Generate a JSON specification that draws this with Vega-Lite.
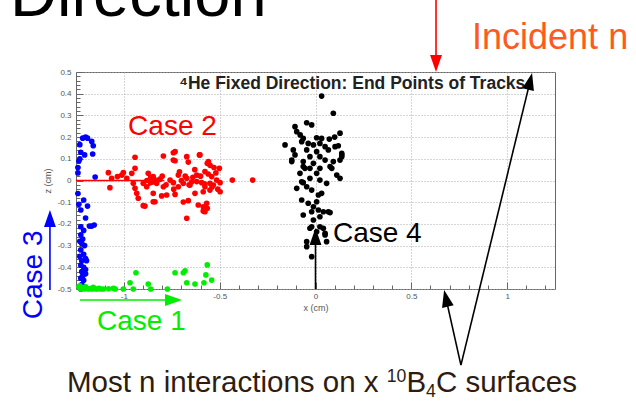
{
  "$schema": "https://vega.github.io/schema/vega-lite/v6.json",
  "width": 479,
  "height": 217,
  "autosize": {"type": "none"},
  "padding": {"left": 76, "top": 72, "right": 81, "bottom": 113},
  "background": "white",
  "config": {
    "view": {"stroke": "#666666", "strokeWidth": 1},
    "font": "Liberation Sans",
    "axis": {
      "domain": false,
      "labelFont": "Liberation Sans",
      "labelFontSize": 8,
      "labelColor": "#555555",
      "labelOverlap": false,
      "titleFont": "Liberation Sans",
      "titleFontSize": 9,
      "titleFontWeight": "normal",
      "titleColor": "#555555",
      "tickColor": "#666666",
      "gridColor": "#aaaaaa",
      "gridDash": [1, 2],
      "gridWidth": 1
    }
  },
  "resolve": {"axis": {"x": "independent", "y": "independent"}},
  "datasets": {
    "tracks": [
      {"x": -1.215, "z": 0.195, "case": "Case 3"}, {"x": -1.2, "z": 0.2, "case": "Case 3"}, {"x": -1.19, "z": 0.195, "case": "Case 3"},
      {"x": -1.168, "z": 0.18, "case": "Case 3"}, {"x": -1.16, "z": 0.16, "case": "Case 3"}, {"x": -1.23, "z": 0.165, "case": "Case 3"},
      {"x": -1.225, "z": 0.13, "case": "Case 3"}, {"x": -1.205, "z": 0.118, "case": "Case 3"}, {"x": -1.163, "z": 0.122, "case": "Case 3"},
      {"x": -1.235, "z": 0.09, "case": "Case 3"}, {"x": -1.23, "z": 0.1, "case": "Case 3"}, {"x": -1.24, "z": 0.035, "case": "Case 3"},
      {"x": -1.15, "z": 0.016, "case": "Case 3"}, {"x": -1.24, "z": 0.06, "case": "Case 3"}, {"x": -1.21, "z": -0.09, "case": "Case 3"},
      {"x": -1.19, "z": -0.118, "case": "Case 3"}, {"x": -1.225, "z": -0.136, "case": "Case 3"}, {"x": -1.2, "z": -0.173, "case": "Case 3"},
      {"x": -1.168, "z": -0.21, "case": "Case 3"}, {"x": -1.225, "z": -0.213, "case": "Case 3"}, {"x": -1.235, "z": -0.11, "case": "Case 3"},
      {"x": -1.24, "z": -0.06, "case": "Case 3"}, {"x": -1.155, "z": -0.205, "case": "Case 3"}, {"x": -1.18, "z": -0.21, "case": "Case 3"},
      {"x": -1.225, "z": -0.25, "case": "Case 3"}, {"x": -1.215, "z": -0.27, "case": "Case 3"}, {"x": -1.22, "z": -0.29, "case": "Case 3"},
      {"x": -1.205, "z": -0.3, "case": "Case 3"}, {"x": -1.225, "z": -0.32, "case": "Case 3"}, {"x": -1.21, "z": -0.34, "case": "Case 3"},
      {"x": -1.2, "z": -0.36, "case": "Case 3"}, {"x": -1.22, "z": -0.37, "case": "Case 3"}, {"x": -1.195, "z": -0.37, "case": "Case 3"},
      {"x": -1.225, "z": -0.39, "case": "Case 3"}, {"x": -1.21, "z": -0.4, "case": "Case 3"}, {"x": -1.22, "z": -0.42, "case": "Case 3"},
      {"x": -1.2, "z": -0.43, "case": "Case 3"}, {"x": -1.225, "z": -0.45, "case": "Case 3"}, {"x": -1.21, "z": -0.46, "case": "Case 3"},
      {"x": -1.22, "z": -0.48, "case": "Case 3"}, {"x": -1.205, "z": -0.49, "case": "Case 3"}, {"x": -1.225, "z": -0.5, "case": "Case 3"},
      {"x": -1.215, "z": -0.44, "case": "Case 3"}, {"x": -1.23, "z": -0.28, "case": "Case 3"}, {"x": -1.23, "z": -0.35, "case": "Case 3"},
      {"x": -1.2, "z": -0.41, "case": "Case 3"}, {"x": -1.21, "z": -0.23, "case": "Case 3"},

      {"x": -1.235, "z": -0.49, "case": "Case 1"}, {"x": -1.225, "z": -0.5, "case": "Case 1"}, {"x": -1.215, "z": -0.495, "case": "Case 1"},
      {"x": -1.205, "z": -0.5, "case": "Case 1"}, {"x": -1.195, "z": -0.497, "case": "Case 1"}, {"x": -1.185, "z": -0.5, "case": "Case 1"},
      {"x": -1.175, "z": -0.498, "case": "Case 1"}, {"x": -1.165, "z": -0.5, "case": "Case 1"}, {"x": -1.15, "z": -0.499, "case": "Case 1"},
      {"x": -1.14, "z": -0.5, "case": "Case 1"}, {"x": -1.13, "z": -0.497, "case": "Case 1"}, {"x": -1.12, "z": -0.5, "case": "Case 1"},
      {"x": -1.107, "z": -0.5, "case": "Case 1"}, {"x": -1.08, "z": -0.499, "case": "Case 1"}, {"x": -1.055, "z": -0.497, "case": "Case 1"},
      {"x": -1.045, "z": -0.5, "case": "Case 1"}, {"x": -1.003, "z": -0.5, "case": "Case 1"}, {"x": -0.968, "z": -0.471, "case": "Case 1"},
      {"x": -0.951, "z": -0.5, "case": "Case 1"}, {"x": -0.937, "z": -0.425, "case": "Case 1"}, {"x": -0.873, "z": -0.477, "case": "Case 1"},
      {"x": -0.86, "z": -0.5, "case": "Case 1"}, {"x": -0.773, "z": -0.5, "case": "Case 1"}, {"x": -0.733, "z": -0.425, "case": "Case 1"},
      {"x": -0.69, "z": -0.425, "case": "Case 1"}, {"x": -0.681, "z": -0.416, "case": "Case 1"}, {"x": -0.672, "z": -0.471, "case": "Case 1"},
      {"x": -0.629, "z": -0.477, "case": "Case 1"}, {"x": -0.582, "z": -0.471, "case": "Case 1"}, {"x": -0.572, "z": -0.435, "case": "Case 1"},
      {"x": -0.542, "z": -0.459, "case": "Case 1"}, {"x": -0.565, "z": -0.389, "case": "Case 1"}, {"x": -1.23, "z": -0.485, "case": "Case 1"},
      {"x": -1.2, "z": -0.49, "case": "Case 1"}, {"x": -1.16, "z": -0.492, "case": "Case 1"},

      {"x": -0.942, "z": 0.107, "case": "Case 2"}, {"x": -0.794, "z": 0.113, "case": "Case 2"}, {"x": -0.742, "z": 0.128, "case": "Case 2"},
      {"x": -0.606, "z": 0.118, "case": "Case 2"}, {"x": -0.733, "z": 0.091, "case": "Case 2"}, {"x": -0.664, "z": 0.085, "case": "Case 2"},
      {"x": -0.565, "z": 0.079, "case": "Case 2"}, {"x": -0.502, "z": 0.056, "case": "Case 2"}, {"x": -0.942, "z": 0.056, "case": "Case 2"},
      {"x": -1.003, "z": 0.036, "case": "Case 2"}, {"x": -0.959, "z": 0.033, "case": "Case 2"}, {"x": -0.873, "z": 0.033, "case": "Case 2"},
      {"x": -0.985, "z": 0.01, "case": "Case 2"}, {"x": -0.847, "z": 0.018, "case": "Case 2"}, {"x": -0.812, "z": 0.006, "case": "Case 2"},
      {"x": -0.759, "z": 0.002, "case": "Case 2"}, {"x": -0.716, "z": 0.025, "case": "Case 2"}, {"x": -0.672, "z": 0.01, "case": "Case 2"},
      {"x": -0.62, "z": 0.025, "case": "Case 2"}, {"x": -0.577, "z": 0.041, "case": "Case 2"}, {"x": -0.542, "z": 0.018, "case": "Case 2"},
      {"x": -0.516, "z": 0.002, "case": "Case 2"}, {"x": -0.434, "z": 0.002, "case": "Case 2"}, {"x": -0.328, "z": 0.002, "case": "Case 2"},
      {"x": -0.951, "z": -0.013, "case": "Case 2"}, {"x": -0.899, "z": -0.013, "case": "Case 2"}, {"x": -0.829, "z": -0.013, "case": "Case 2"},
      {"x": -0.742, "z": -0.01, "case": "Case 2"}, {"x": -0.69, "z": -0.013, "case": "Case 2"}, {"x": -0.646, "z": -0.006, "case": "Case 2"},
      {"x": -0.594, "z": -0.01, "case": "Case 2"}, {"x": -0.551, "z": -0.013, "case": "Case 2"}, {"x": -0.498, "z": -0.01, "case": "Case 2"},
      {"x": -0.942, "z": -0.036, "case": "Case 2"}, {"x": -0.881, "z": -0.029, "case": "Case 2"}, {"x": -0.794, "z": -0.029, "case": "Case 2"},
      {"x": -0.716, "z": -0.029, "case": "Case 2"}, {"x": -0.655, "z": -0.021, "case": "Case 2"}, {"x": -0.577, "z": -0.029, "case": "Case 2"},
      {"x": -0.533, "z": -0.021, "case": "Case 2"}, {"x": -0.933, "z": -0.059, "case": "Case 2"}, {"x": -0.847, "z": -0.059, "case": "Case 2"},
      {"x": -0.803, "z": -0.071, "case": "Case 2"}, {"x": -0.777, "z": -0.067, "case": "Case 2"}, {"x": -0.733, "z": -0.064, "case": "Case 2"},
      {"x": -0.629, "z": -0.059, "case": "Case 2"}, {"x": -0.586, "z": -0.052, "case": "Case 2"}, {"x": -0.551, "z": -0.044, "case": "Case 2"},
      {"x": -0.498, "z": -0.052, "case": "Case 2"}, {"x": -0.925, "z": -0.082, "case": "Case 2"}, {"x": -0.847, "z": -0.098, "case": "Case 2"},
      {"x": -0.69, "z": -0.099, "case": "Case 2"}, {"x": -0.664, "z": -0.093, "case": "Case 2"}, {"x": -0.612, "z": -0.113, "case": "Case 2"},
      {"x": -0.568, "z": -0.105, "case": "Case 2"}, {"x": -0.89, "z": -0.118, "case": "Case 2"}, {"x": -0.586, "z": -0.141, "case": "Case 2"},
      {"x": -0.565, "z": -0.128, "case": "Case 2"}, {"x": -0.672, "z": -0.174, "case": "Case 2"}, {"x": -1.081, "z": 0.036, "case": "Case 2"},
      {"x": -1.064, "z": 0.01, "case": "Case 2"}, {"x": -1.073, "z": -0.033, "case": "Case 2"}, {"x": -1.034, "z": 0.018, "case": "Case 2"},
      {"x": -1.011, "z": 0.025, "case": "Case 2"}, {"x": -0.899, "z": -0.116, "case": "Case 2"}, {"x": -0.838, "z": -0.098, "case": "Case 2"},
      {"x": -0.742, "z": 0.094, "case": "Case 2"}, {"x": -0.733, "z": 0.133, "case": "Case 2"}, {"x": -0.672, "z": 0.11, "case": "Case 2"},
      {"x": -0.603, "z": 0.118, "case": "Case 2"}, {"x": -0.559, "z": 0.087, "case": "Case 2"}, {"x": -0.586, "z": -0.121, "case": "Case 2"},
      {"x": -0.577, "z": -0.144, "case": "Case 2"}, {"x": -0.7, "z": 0.0, "case": "Case 2"}, {"x": -0.68, "z": 0.02, "case": "Case 2"},
      {"x": -0.66, "z": -0.02, "case": "Case 2"}, {"x": -0.64, "z": 0.015, "case": "Case 2"}, {"x": -0.62, "z": -0.005, "case": "Case 2"},
      {"x": -0.6, "z": 0.02, "case": "Case 2"}, {"x": -0.58, "z": -0.015, "case": "Case 2"}, {"x": -0.56, "z": 0.03, "case": "Case 2"},
      {"x": -0.54, "z": -0.03, "case": "Case 2"}, {"x": -0.52, "z": 0.035, "case": "Case 2"}, {"x": -0.51, "z": -0.04, "case": "Case 2"},
      {"x": -0.53, "z": 0.06, "case": "Case 2"}, {"x": -0.55, "z": 0.07, "case": "Case 2"}, {"x": -0.63, "z": 0.05, "case": "Case 2"},
      {"x": -0.71, "z": 0.04, "case": "Case 2"}, {"x": -0.74, "z": -0.04, "case": "Case 2"}, {"x": -0.88, "z": 0.0, "case": "Case 2"},
      {"x": -0.86, "z": 0.015, "case": "Case 2"}, {"x": -0.84, "z": -0.005, "case": "Case 2"}, {"x": -0.8, "z": 0.02, "case": "Case 2"},
      {"x": -0.78, "z": -0.02, "case": "Case 2"},

      {"x": 0.032, "z": 0.389, "case": "Case 4"}, {"x": 0.093, "z": 0.31, "case": "Case 4"}, {"x": -0.046, "z": 0.266, "case": "Case 4"},
      {"x": -0.02, "z": 0.256, "case": "Case 4"}, {"x": -0.107, "z": 0.248, "case": "Case 4"}, {"x": -0.098, "z": 0.225, "case": "Case 4"},
      {"x": 0.128, "z": 0.218, "case": "Case 4"}, {"x": -0.064, "z": 0.194, "case": "Case 4"}, {"x": 0.006, "z": 0.197, "case": "Case 4"},
      {"x": 0.032, "z": 0.194, "case": "Case 4"}, {"x": 0.072, "z": 0.191, "case": "Case 4"}, {"x": -0.159, "z": 0.164, "case": "Case 4"},
      {"x": -0.072, "z": 0.179, "case": "Case 4"}, {"x": -0.038, "z": 0.171, "case": "Case 4"}, {"x": -0.011, "z": 0.164, "case": "Case 4"},
      {"x": 0.023, "z": 0.171, "case": "Case 4"}, {"x": 0.05, "z": 0.156, "case": "Case 4"}, {"x": 0.102, "z": 0.156, "case": "Case 4"},
      {"x": 0.119, "z": 0.16, "case": "Case 4"}, {"x": -0.116, "z": 0.141, "case": "Case 4"}, {"x": -0.046, "z": 0.141, "case": "Case 4"},
      {"x": 0.006, "z": 0.133, "case": "Case 4"}, {"x": 0.067, "z": 0.141, "case": "Case 4"}, {"x": 0.137, "z": 0.125, "case": "Case 4"},
      {"x": -0.107, "z": 0.118, "case": "Case 4"}, {"x": -0.029, "z": 0.11, "case": "Case 4"}, {"x": 0.023, "z": 0.11, "case": "Case 4"},
      {"x": -0.064, "z": 0.087, "case": "Case 4"}, {"x": -0.124, "z": 0.087, "case": "Case 4"}, {"x": -0.011, "z": 0.079, "case": "Case 4"},
      {"x": 0.05, "z": 0.094, "case": "Case 4"}, {"x": 0.093, "z": 0.087, "case": "Case 4"}, {"x": 0.137, "z": 0.11, "case": "Case 4"},
      {"x": -0.064, "z": 0.064, "case": "Case 4"}, {"x": -0.029, "z": 0.056, "case": "Case 4"}, {"x": 0.023, "z": 0.056, "case": "Case 4"},
      {"x": 0.076, "z": 0.064, "case": "Case 4"}, {"x": -0.081, "z": 0.033, "case": "Case 4"}, {"x": 0.006, "z": 0.033, "case": "Case 4"},
      {"x": 0.111, "z": 0.025, "case": "Case 4"}, {"x": 0.128, "z": 0.01, "case": "Case 4"}, {"x": -0.029, "z": 0.01, "case": "Case 4"},
      {"x": -0.072, "z": -0.006, "case": "Case 4"}, {"x": 0.023, "z": 0.002, "case": "Case 4"}, {"x": -0.064, "z": -0.01, "case": "Case 4"},
      {"x": -0.046, "z": -0.029, "case": "Case 4"}, {"x": -0.02, "z": -0.044, "case": "Case 4"}, {"x": 0.032, "z": -0.059, "case": "Case 4"},
      {"x": -0.072, "z": -0.09, "case": "Case 4"}, {"x": -0.038, "z": -0.105, "case": "Case 4"}, {"x": 0.006, "z": -0.098, "case": "Case 4"},
      {"x": -0.011, "z": -0.121, "case": "Case 4"}, {"x": 0.015, "z": -0.136, "case": "Case 4"}, {"x": -0.02, "z": -0.144, "case": "Case 4"},
      {"x": 0.076, "z": -0.148, "case": "Case 4"}, {"x": 0.041, "z": -0.144, "case": "Case 4"}, {"x": -0.064, "z": -0.159, "case": "Case 4"},
      {"x": 0.023, "z": -0.167, "case": "Case 4"}, {"x": -0.029, "z": -0.22, "case": "Case 4"}, {"x": 0.041, "z": -0.22, "case": "Case 4"},
      {"x": 0.05, "z": -0.251, "case": "Case 4"}, {"x": 0.006, "z": -0.236, "case": "Case 4"}, {"x": 0.058, "z": -0.282, "case": "Case 4"},
      {"x": -0.046, "z": -0.305, "case": "Case 4"}, {"x": -0.02, "z": -0.351, "case": "Case 4"}, {"x": -0.046, "z": -0.282, "case": "Case 4"},
      {"x": 0.067, "z": -0.144, "case": "Case 4"}, {"x": 0.015, "z": -0.067, "case": "Case 4"}, {"x": -0.098, "z": -0.036, "case": "Case 4"},
      {"x": 0.058, "z": -0.013, "case": "Case 4"}, {"x": -0.055, "z": 0.056, "case": "Case 4"}, {"x": 0.085, "z": 0.056, "case": "Case 4"},
      {"x": 0.128, "z": 0.094, "case": "Case 4"}, {"x": 0.137, "z": 0.118, "case": "Case 4"}, {"x": -0.124, "z": 0.094, "case": "Case 4"},
      {"x": -0.011, "z": -0.182, "case": "Case 4"}, {"x": 0.023, "z": -0.213, "case": "Case 4"}, {"x": 0.05, "z": -0.243, "case": "Case 4"},
      {"x": -0.02, "z": -0.213, "case": "Case 4"}, {"x": 0.1, "z": 0.2, "case": "Case 4"}, {"x": -0.08, "z": 0.21, "case": "Case 4"}
    ],
    "arrows": [
      {"x": 0.629, "z": 0.832, "x2": 0.629, "z2": 0.55, "group": "Incident n"},
      {"x": -1.25, "z": 0.0, "x2": -0.84, "z2": 0.0, "group": "Case 2"},
      {"x": -1.386, "z": -0.505, "x2": -1.386, "z2": -0.19, "group": "Case 3"},
      {"x": -1.229, "z": -0.551, "x2": -0.76, "z2": -0.551, "group": "Case 1"},
      {"x": 0.0, "z": -0.5, "x2": 0.0, "z2": -0.27, "group": "Case 4"},
      {"x": 0.759, "z": -0.851, "x2": 1.12, "z2": 0.457, "group": "surface"},
      {"x": 0.759, "z": -0.851, "x2": 0.681, "z2": -0.543, "group": "surface"}
    ],
    "heads": [
      {"x": 0.629, "z": 0.539, "direction": 180, "group": "Incident n"},
      {"x": -0.83, "z": 0.0, "direction": 90, "group": "Case 2"},
      {"x": -1.386, "z": -0.175, "direction": 0, "group": "Case 3"},
      {"x": -0.741, "z": -0.551, "direction": 90, "group": "Case 1"},
      {"x": 0.0, "z": -0.258, "direction": 0, "group": "Case 4"},
      {"x": 1.12, "z": 0.457, "direction": 13.5, "group": "surface"},
      {"x": 0.681, "z": -0.543, "direction": -12.8, "group": "surface"}
    ]
  },
  "layer": [
    {
      "data": {"name": "tracks"},
      "mark": {"type": "circle", "size": 32, "opacity": 1},
      "encoding": {
        "x": {
          "field": "x", "type": "quantitative",
          "scale": {"domain": [-1.25, 1.25], "nice": false, "zero": false},
          "axis": {
            "orient": "bottom",
            "title": "x (cm)",
            "titlePadding": 3,
            "values": [-1, -0.5, 0, 0.5, 1],
            "labelExpr": "toString(datum.value)",
            "tickSize": -7,
            "labelPadding": 10,
            "grid": true
          }
        },
        "y": {
          "field": "z", "type": "quantitative",
          "scale": {"domain": [-0.5, 0.5], "nice": false, "zero": false},
          "axis": {
            "orient": "left",
            "title": "z (cm)",
            "titlePadding": 5,
            "values": [-0.5, -0.4, -0.3, -0.2, -0.1, 0, 0.1, 0.2, 0.3, 0.4, 0.5],
            "labelExpr": "toString(datum.value)",
            "tickSize": -7,
            "labelPadding": 12,
            "grid": true
          }
        },
        "color": {
          "field": "case", "type": "nominal",
          "scale": {
            "domain": ["Case 1", "Case 2", "Case 3", "Case 4", "Incident n", "surface"],
            "range": ["#00ee00", "#ff0000", "#0000ff", "#000000", "#ff0000", "#000000"]
          },
          "legend": null
        }
      }
    },
    {
      "data": {"values": [{"x": 0.192, "z": 0.422, "label": "⁴He Fixed Direction: End Points of Tracks"}]},
      "mark": {"type": "text", "font": "Liberation Sans", "fontSize": 17.5, "fontWeight": "bold", "align": "center", "baseline": "alphabetic", "color": "#222222"},
      "encoding": {"x": {"field": "x", "type": "quantitative", "axis": null}, "y": {"field": "z", "type": "quantitative", "axis": null}, "text": {"field": "label"}}
    },
    {
      "data": {"name": "arrows"},
      "mark": {"type": "rule", "strokeWidth": 1.6},
      "encoding": {
        "x": {
          "field": "x", "type": "quantitative",
          "axis": {
            "orient": "bottom", "title": null, "labels": false, "grid": false, "tickSize": -4,
            "values": [-1.2, -1.1, -0.9, -0.8, -0.7, -0.6, -0.4, -0.3, -0.2, -0.1, 0.1, 0.2, 0.3, 0.4, 0.6, 0.7, 0.8, 0.9, 1.1, 1.2]
          }
        },
        "y": {
          "field": "z", "type": "quantitative",
          "axis": {
            "orient": "left", "title": null, "labels": false, "grid": false, "tickSize": -4,
            "values": [-0.48, -0.46, -0.44, -0.42, -0.38, -0.36, -0.34, -0.32, -0.28, -0.26, -0.24, -0.22, -0.18, -0.16, -0.14, -0.12, -0.08, -0.06, -0.04, -0.02, 0.02, 0.04, 0.06, 0.08, 0.12, 0.14, 0.16, 0.18, 0.22, 0.24, 0.26, 0.28, 0.32, 0.34, 0.36, 0.38, 0.42, 0.44, 0.46, 0.48]
          }
        },
        "x2": {"field": "x2"},
        "y2": {"field": "z2"},
        "color": {"field": "group", "type": "nominal", "legend": null}
      }
    },
    {
      "data": {"name": "heads"},
      "mark": {"type": "point", "shape": "M0,-1L0.7,1L-0.7,1Z", "size": 289, "filled": true, "opacity": 1},
      "encoding": {
        "x": {"field": "x", "type": "quantitative", "axis": null},
        "y": {"field": "z", "type": "quantitative", "axis": null},
        "angle": {"field": "direction", "type": "quantitative", "scale": null},
        "color": {"field": "group", "type": "nominal", "legend": null}
      }
    },
    {
      "data": {"values": [{"x": -1.594, "z": 0.758, "label": "Direction"}]},
      "mark": {"type": "text", "font": "Liberation Sans", "fontSize": 65, "align": "left", "baseline": "alphabetic", "color": "#000000"},
      "encoding": {"x": {"field": "x", "type": "quantitative", "axis": null}, "y": {"field": "z", "type": "quantitative", "axis": null}, "text": {"field": "label"}}
    },
    {
      "data": {"values": [{"x": 0.817, "z": 0.606, "label": "Incident n"}]},
      "mark": {"type": "text", "font": "Liberation Sans", "fontSize": 36, "align": "left", "baseline": "alphabetic", "color": "#ff5a1e"},
      "encoding": {"x": {"field": "x", "type": "quantitative", "axis": null}, "y": {"field": "z", "type": "quantitative", "axis": null}, "text": {"field": "label"}}
    },
    {
      "data": {"values": [
        {"x": -0.978, "z": 0.21, "label": "Case 2"},
        {"x": -1.14, "z": -0.689, "label": "Case 1"},
        {"x": 0.091, "z": -0.283, "label": "Case 4"}
      ]},
      "mark": {"type": "text", "font": "Liberation Sans", "fontSize": 28, "align": "left", "baseline": "alphabetic"},
      "encoding": {
        "x": {"field": "x", "type": "quantitative", "axis": null},
        "y": {"field": "z", "type": "quantitative", "axis": null},
        "text": {"field": "label"},
        "color": {"field": "label", "type": "nominal", "legend": null}
      }
    },
    {
      "data": {"values": [{"x": -1.427, "z": -0.435, "label": "Case 3"}]},
      "mark": {"type": "text", "font": "Liberation Sans", "fontSize": 28, "align": "center", "baseline": "alphabetic", "angle": 270, "color": "#0000ff"},
      "encoding": {"x": {"field": "x", "type": "quantitative", "axis": null}, "y": {"field": "z", "type": "quantitative", "axis": null}, "text": {"field": "label"}}
    },
    {
      "data": {"values": [
        {"x": -1.297, "z": -0.975, "label": "Most n interactions on x "},
        {"x": 0.4744, "z": -0.975, "label": "B"},
        {"x": 0.6284, "z": -0.975, "label": "C surfaces"}
      ]},
      "mark": {"type": "text", "font": "Liberation Sans", "fontSize": 29.5, "align": "left", "baseline": "alphabetic", "color": "#2e1c0f"},
      "encoding": {"x": {"field": "x", "type": "quantitative", "axis": null}, "y": {"field": "z", "type": "quantitative", "axis": null}, "text": {"field": "label"}}
    },
    {
      "data": {"values": [
        {"x": 0.3716, "z": -0.9286, "label": "10"},
        {"x": 0.5772, "z": -0.9977, "label": "4"}
      ]},
      "mark": {"type": "text", "font": "Liberation Sans", "fontSize": 17.7, "align": "left", "baseline": "alphabetic", "color": "#2e1c0f"},
      "encoding": {"x": {"field": "x", "type": "quantitative", "axis": null}, "y": {"field": "z", "type": "quantitative", "axis": null}, "text": {"field": "label"}}
    }
  ]
}
